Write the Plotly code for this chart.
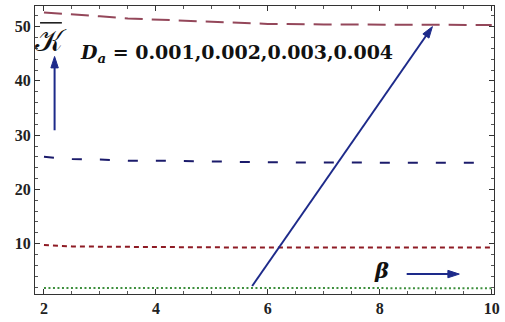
import plotly.graph_objects as go

# Inverse-permeability parameter beta and the resulting K-bar values
beta = [2.0, 2.5, 3.0, 3.5, 4.0, 4.5, 5.0, 5.5, 6.0, 7.0, 8.0, 9.0, 10.0]
k_da_001 = [52.6, 52.3, 51.9, 51.5, 51.3, 51.0, 50.8, 50.7, 50.5, 50.4, 50.35, 50.3, 50.3]
k_da_002 = [26.0, 25.6, 25.5, 25.3, 25.3, 25.2, 25.2, 25.1, 25.0, 24.95, 24.9, 24.9, 24.9]
k_da_003 = [9.75, 9.5, 9.45, 9.4, 9.4, 9.35, 9.3, 9.3, 9.3, 9.3, 9.3, 9.3, 9.3]
k_da_004 = [1.85, 1.85, 1.85, 1.85, 1.8, 1.8, 1.8, 1.8, 1.8, 1.8, 1.8, 1.8, 1.8]

x_ticks = [2, 4, 6, 8, 10]
y_ticks = [10, 20, 30, 40, 50]

series = [
    (k_da_001, "#94475a", "18px,9px"),
    (k_da_002, "#1b1b6b", "10px,18px"),
    (k_da_003, "#8e1b24", "5px,4px"),
    (k_da_004, "#3d8f3d", "2px,2.5px"),
]

fig = go.Figure()
for ys, color, dash in series:
    fig.add_trace(go.Scatter(x=beta, y=ys, mode="lines",
                             line=dict(color=color, width=2, dash=dash),
                             showlegend=False, hoverinfo="skip"))

# Direction arrows: (start beta, start K, end beta, end K)
arrow_color = "#1d2a8a"
arrows = [
    (2.19, 30.9, 2.19, 44.5),   # K-bar direction
    (5.72, 2.2, 8.94, 50.0),    # increasing Da
    (8.48, 4.4, 9.42, 4.4),     # beta direction
]
for x0, y0, x1, y1 in arrows:
    fig.add_trace(go.Scatter(
        x=[x0, x1], y=[y0, y1], mode="lines+markers",
        line=dict(color=arrow_color, width=2),
        marker=dict(symbol=["circle", "arrow"], size=[0, 12],
                    angleref="previous", color=arrow_color, opacity=1,
                    line=dict(width=1, color=arrow_color)),
        showlegend=False, hoverinfo="skip"))

tickfont = dict(family="Liberation Serif", size=16, color="#222", weight="bold")
axis_common = dict(showline=True, linecolor="#333", linewidth=1, mirror="allticks",
                   ticks="inside", ticklen=5, tickcolor="#333", showgrid=False,
                   zeroline=False, tickfont=tickfont)

fig.update_xaxes(range=[1.84, 10.04], tickvals=x_ticks,
                 minor=dict(dtick=0.5, ticks="inside", ticklen=3, tickcolor="#555"),
                 **axis_common)
fig.update_yaxes(range=[0.73, 53.8], tickvals=y_ticks,
                 minor=dict(dtick=2, ticks="inside", ticklen=3, tickcolor="#555"),
                 **axis_common)

label_font = dict(family="DejaVu Serif", size=19, color="#111", weight="bold")
fig.add_annotation(x=2.12, y=47.5, xref="x", yref="y", showarrow=False,
                   text="𝒦", font=dict(family="DejaVu Serif", size=30, color="#111"))
fig.add_shape(type="line", x0=1.93, x1=2.32, y0=50.7, y1=50.7,
              line=dict(color="#111", width=1.5))
fig.add_annotation(x=2.6, y=45.0, xref="x", yref="y", showarrow=False,
                   xanchor="left",
                   text="<i>D</i><sub><i>a</i></sub> = 0.001,0.002,0.003,0.004",
                   font=label_font)
fig.add_annotation(x=8.03, y=5.1, xref="x", yref="y", showarrow=False,
                   text="<i>β</i>", font=dict(family="DejaVu Serif", size=21,
                                              color="#111", weight="bold"))

fig.update_layout(width=505, height=322, margin=dict(l=35, r=5, t=6, b=24),
                  plot_bgcolor="white", paper_bgcolor="white")

fig.write_html("out.html")
